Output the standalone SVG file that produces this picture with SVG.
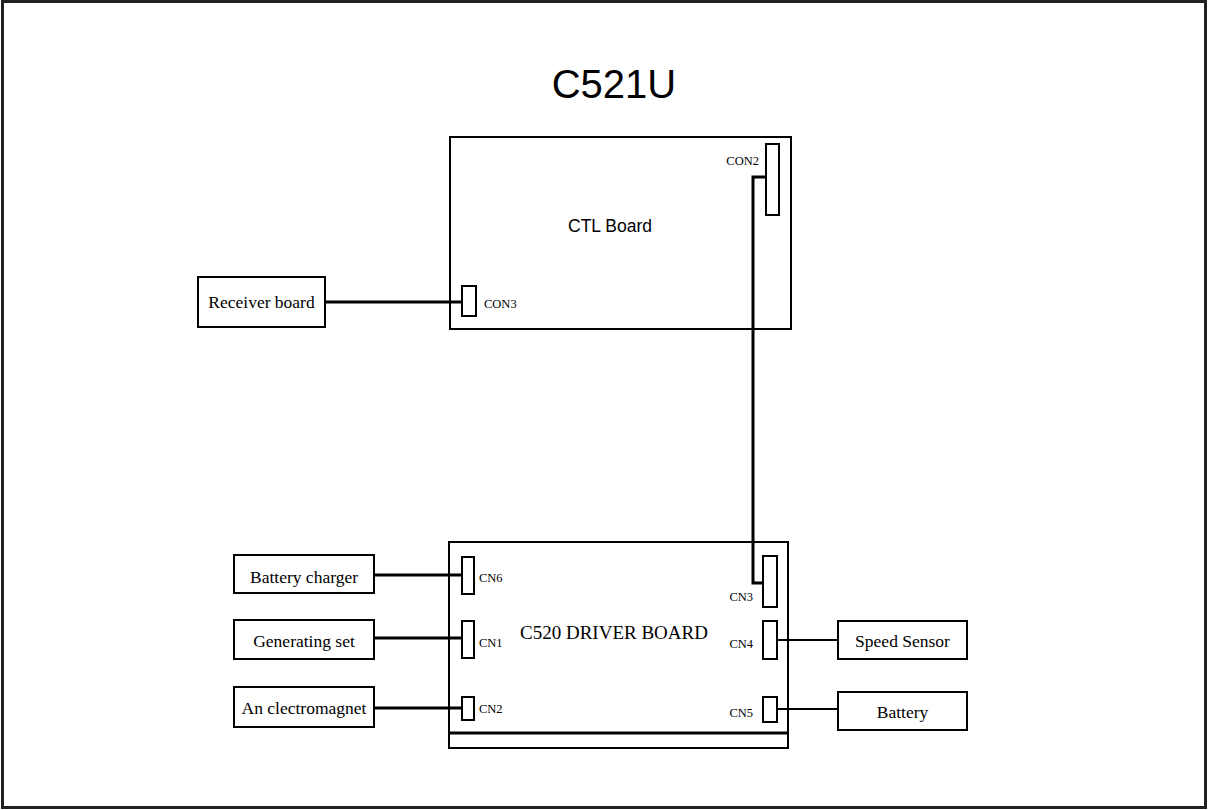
<svg xmlns="http://www.w3.org/2000/svg" width="1208" height="810" viewBox="0 0 1208 810">
<style>
.box{fill:#fff;stroke:#000;stroke-width:2}
.conn{fill:#fff;stroke:#000;stroke-width:2}
.wire{fill:none;stroke:#000;stroke-width:3}
.thin{fill:none;stroke:#000;stroke-width:2}
.lbl{font-family:"Liberation Serif",serif;font-size:17.5px;fill:#000;text-anchor:middle}
.pin{font-family:"Liberation Serif",serif;font-size:12.5px;fill:#000}
.sans{font-family:"Liberation Sans",Arial,sans-serif;fill:#000;text-anchor:middle}
</style>
<rect width="1208" height="810" fill="#fff"/>
<rect x="2.5" y="1.5" width="1203" height="806" fill="none" stroke="#222" stroke-width="3"/>
<text class="sans" x="614" y="98" font-size="40">C521U</text>

<g id="connectors">
<line class="wire" x1="325" y1="302" x2="462" y2="302"/>
<polyline class="wire" points="766,177 753,177 753,583 763,583"/>
<line class="wire" x1="374" y1="575" x2="462" y2="575"/>
<line class="wire" x1="374" y1="638" x2="462" y2="638"/>
<line class="wire" x1="374" y1="708" x2="462" y2="708"/>
<line class="thin" x1="777" y1="640" x2="838" y2="640"/>
<line class="thin" x1="777" y1="709" x2="838" y2="709"/>
</g>

<g id="ctl-board">
<rect class="box" x="450" y="137" width="341" height="192" style="fill:none"/>
<text class="sans" x="610" y="232" font-size="17.5">CTL Board</text>
</g>
<g id="con2">
<rect class="conn" x="766" y="144" width="13" height="71"/>
<text class="pin" x="759" y="165" text-anchor="end">CON2</text>
</g>
<g id="con3">
<rect class="conn" x="462" y="286" width="14" height="30"/>
<text class="pin" x="484" y="308">CON3</text>
</g>
<g id="receiver-board">
<rect class="box" x="198" y="277" width="127" height="50"/>
<text class="lbl" x="261.5" y="308">Receiver board</text>
</g>

<g id="driver-board">
<rect class="box" x="449" y="542" width="339" height="206" style="fill:none"/>
<line x1="449" y1="733" x2="788" y2="733" stroke="#000" stroke-width="3"/>
<text class="lbl" x="614" y="639" style="font-size:19px">C520 DRIVER BOARD</text>
</g>
<g id="cn6">
<rect class="conn" x="462" y="557" width="12" height="37"/>
<text class="pin" x="479" y="582">CN6</text>
</g>
<g id="cn1">
<rect class="conn" x="462" y="621" width="12" height="37"/>
<text class="pin" x="479" y="647">CN1</text>
</g>
<g id="cn2">
<rect class="conn" x="462" y="697" width="12" height="23"/>
<text class="pin" x="479" y="713">CN2</text>
</g>
<g id="cn3">
<rect class="conn" x="763" y="556" width="14" height="51"/>
<text class="pin" x="753" y="601" text-anchor="end">CN3</text>
</g>
<g id="cn4">
<rect class="conn" x="763" y="621" width="14" height="38"/>
<text class="pin" x="753" y="648" text-anchor="end">CN4</text>
</g>
<g id="cn5">
<rect class="conn" x="763" y="697" width="14" height="25"/>
<text class="pin" x="753" y="717" text-anchor="end">CN5</text>
</g>

<g id="battery-charger">
<rect class="box" x="234" y="555" width="140" height="38"/>
<text class="lbl" x="304" y="583">Battery charger</text>
</g>
<g id="generating-set">
<rect class="box" x="234" y="620" width="140" height="39"/>
<text class="lbl" x="304" y="647">Generating set</text>
</g>
<g id="electromagnet">
<rect class="box" x="234" y="687" width="140" height="40"/>
<text class="lbl" x="304" y="714">An clectromagnet</text>
</g>
<g id="speed-sensor">
<rect class="box" x="838" y="621" width="129" height="38"/>
<text class="lbl" x="902.5" y="647">Speed Sensor</text>
</g>
<g id="battery">
<rect class="box" x="838" y="692" width="129" height="38"/>
<text class="lbl" x="902.5" y="718">Battery</text>
</g>
</svg>
